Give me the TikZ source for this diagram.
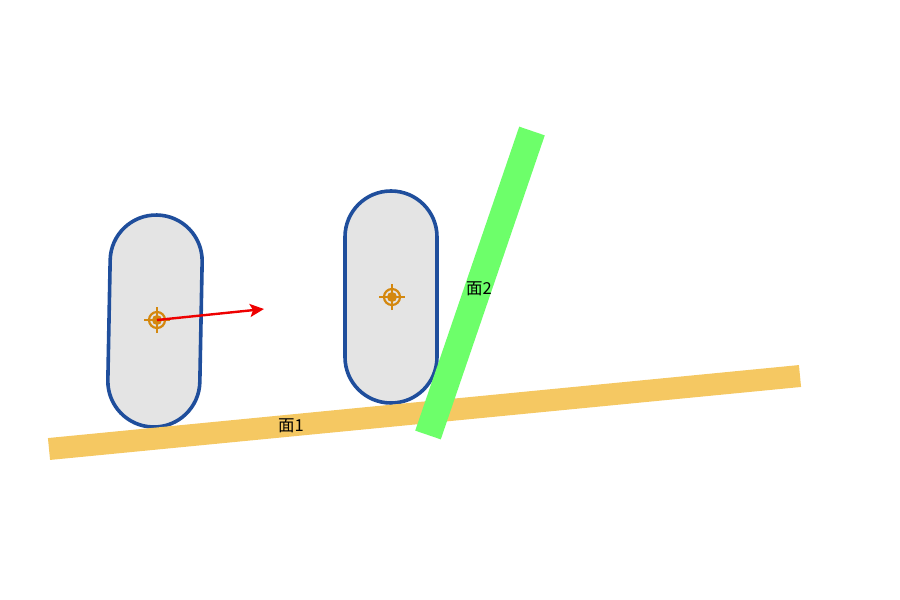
\documentclass[tikz,border=0pt]{standalone}
\usepackage{fontspec}
\newfontfamily\cjk{Noto Sans CJK SC}
\usetikzlibrary{arrows.meta}
\definecolor{barY}{HTML}{F5C862}
\definecolor{barG}{HTML}{6DFF6A}
\definecolor{capB}{HTML}{1F4E9C}
\definecolor{capF}{HTML}{E4E4E4}
\definecolor{tgt}{HTML}{D4880F}
\definecolor{arr}{HTML}{EE0000}
\tikzset{
  capsule/.style={draw=capB, fill=capF, line width=3.6pt, minimum width=92pt, minimum height=212pt, rounded corners=45.9pt, inner sep=0pt},
  bar/.style={line width=#1, line cap=butt},
  lbl/.style={font=\cjk\fontsize{16.5pt}{19pt}\selectfont, inner sep=1pt, text=black},
  target/.pic={
    \draw[tgt, line width=2.2pt] (0,0) circle (8pt);
    \fill[tgt] (0,0) circle (5pt);
    \draw[tgt, line width=2pt] (-13pt,0) -- (13pt,0) (0,-13pt) -- (0,13pt);
  }
}
\begin{document}
\begin{tikzpicture}[x=1pt,y=-1pt]
\useasboundingbox (0,0) rectangle (900,600);
% bars
\coordinate (y1) at (49,449);
\coordinate (y2) at (800,376);
\coordinate (g1) at (532,131);
\coordinate (g2) at (428,435);
% capsules
\node[capsule, rotate=-1.1] (c1) at (155,321) {};
\node[capsule] (c2) at (391,297) {};
\draw[barY, bar=22pt] (y1) -- (y2);
\draw[barG, bar=27pt] (g1) -- (g2);
% targets
\pic at (157,320) {target};
\pic at (392,297) {target};
\coordinate (m1) at (157,320);
\coordinate (t1) at (264,309);
\draw[arr, line width=2.4pt, -{Stealth[length=14pt,width=13pt,inset=3pt]}] (m1) -- (t1);
\node[lbl] (l1) at (291,426) {面1};
\node[lbl] (l2) at (479,289) {面2};
\end{tikzpicture}
\end{document}
